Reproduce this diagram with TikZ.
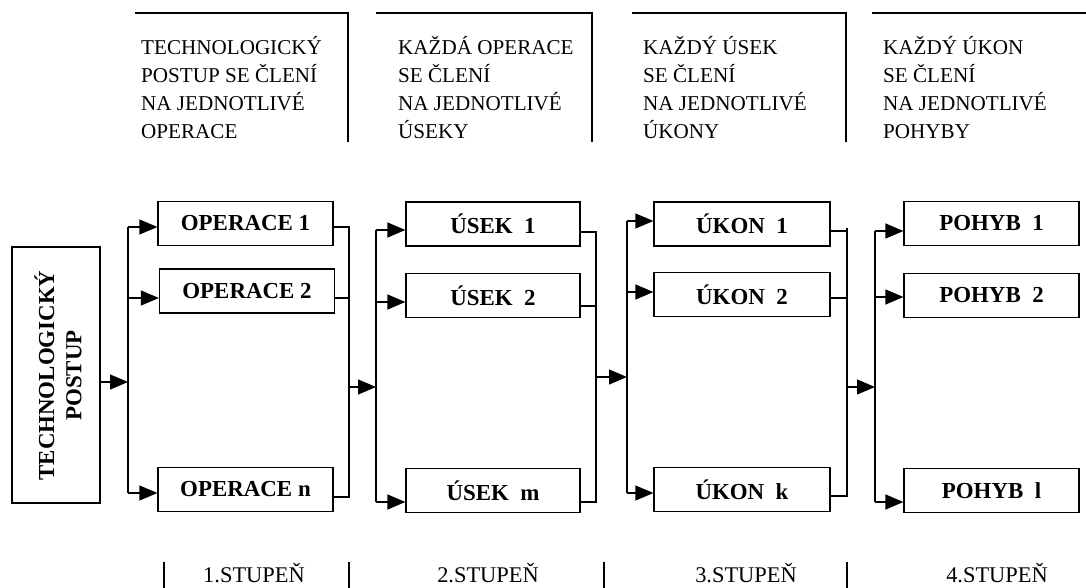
\documentclass[tikz,border=0pt]{standalone}
\usepackage{fontspec}
\setmainfont{Liberation Serif}
\usetikzlibrary{arrows.meta}
\tikzset{
  box/.style={draw, line width=1.2bp, minimum width=175bp, minimum height=44bp, inner sep=0pt,
    font=\fontsize{23}{27}\selectfont\bfseries},
  arr/.style={line width=1.2bp, -{Triangle[length=18bp,width=15bp]}},
  wire/.style={line width=1.2bp},
  head/.style={anchor=north west, align=left, inner sep=0pt, font=\fontsize{21.2}{28}\selectfont},
  stage/.style={anchor=base, inner sep=0pt, font=\fontsize{22.5}{26}\selectfont}
}
\begin{document}
\begin{tikzpicture}[x=1bp,y=-1bp]
\useasboundingbox (0,0) rectangle (1086,588);
% header brackets
\draw[wire] (135,13) -- (348,13) -- (348,142);
\draw[wire] (376,13) -- (592,13) -- (592,142);
\draw[wire] (632,13) -- (846,13) -- (846,142);
\draw[wire] (872,13) -- (1086,13);
\node[head] (h1) at (141,36) {TECHNOLOGICKÝ\\POSTUP SE ČLENÍ\\NA JEDNOTLIVÉ\\OPERACE};
\node[head] (h2) at (398,36) {KAŽDÁ OPERACE\\SE ČLENÍ\\NA JEDNOTLIVÉ\\ÚSEKY};
\node[head] (h3) at (643,36) {KAŽDÝ ÚSEK\\SE ČLENÍ\\NA JEDNOTLIVÉ\\ÚKONY};
\node[head] (h4) at (883,36) {KAŽDÝ ÚKON\\SE ČLENÍ\\NA JEDNOTLIVÉ\\POHYBY};
% main box
\node[draw, line width=1.2bp, minimum width=88bp, minimum height=256bp, inner sep=0pt] (tp) at (56,375) {};
\node[rotate=90, align=center, inner sep=0pt, font=\fontsize{23}{27.5}\selectfont\bfseries] (tpt) at (58,375.5) {TECHNOLOGICKÝ\\POSTUP};
% boxes
\node[box] (op1) at (245.5,223.5) {OPERACE 1};
\node[box] (op2) at (247,291) {OPERACE 2};
\node[box] (opn) at (245.5,489.5) {OPERACE n};
\node[box, minimum width=174bp] (us1) at (493,224) {ÚSEK\ \ 1};
\node[box, minimum width=174bp] (us2) at (493,295.5) {ÚSEK\ \ 2};
\node[box, minimum width=174bp] (usm) at (493,490.5) {ÚSEK\ \ m};
\node[box, minimum width=176bp] (uk1) at (742,224) {ÚKON\ \ 1};
\node[box, minimum width=176bp] (uk2) at (742,294.5) {ÚKON\ \ 2};
\node[box, minimum width=176bp] (ukk) at (742,489.5) {ÚKON\ \ k};
\node[box] (ph1) at (991.5,223.5) {POHYB\ \ 1};
\node[box] (ph2) at (991.5,295.5) {POHYB\ \ 2};
\node[box] (phl) at (991.5,490.5) {POHYB\ \ l};
% bar A
\coordinate (a1) at (128,227); \coordinate (a2) at (128,298); \coordinate (an) at (128,493);
\coordinate (am) at (128,382);
\draw[wire] (a1) -- (an);
\draw[arr] (tp.east |- am) -- (am);
\draw[arr] (a1) -- (op1.west |- a1);
\draw[arr] (a2) -- (op2.west |- a2);
\draw[arr] (an) -- (opn.west |- an);
% collector A
\coordinate (c1) at (349,227); \coordinate (c2) at (349,298); \coordinate (cn) at (349,497);
\coordinate (cm) at (349,387);
\draw[wire] (op1.east |- c1) -- (c1) -- (cn) -- (opn.east |- cn);
\draw[wire] (op2.east |- c2) -- (c2);
% bar B
\coordinate (b1) at (376,230); \coordinate (b2) at (376,302); \coordinate (bn) at (376,502);
\coordinate (bm) at (376,387);
\draw[wire] (b1) -- (bn);
\draw[arr] (cm) -- (bm);
\draw[arr] (b1) -- (us1.west |- b1);
\draw[arr] (b2) -- (us2.west |- b2);
\draw[arr] (bn) -- (usm.west |- bn);
% collector B
\coordinate (d1) at (596,232); \coordinate (d2) at (596,306); \coordinate (dn) at (596,502);
\coordinate (dm) at (596,377);
\draw[wire] (us1.east |- d1) -- (d1) -- (dn) -- (usm.east |- dn);
\draw[wire] (us2.east |- d2) -- (d2);
% bar C
\coordinate (e1) at (627,221); \coordinate (e2) at (627,292); \coordinate (en) at (627,493);
\coordinate (em) at (627,377);
\draw[wire] (e1) -- (en);
\draw[arr] (dm) -- (em);
\draw[arr] (e1) -- (uk1.west |- e1);
\draw[arr] (e2) -- (uk2.west |- e2);
\draw[arr] (en) -- (ukk.west |- en);
% collector C
\coordinate (f0) at (847,228);
\coordinate (f1) at (847,231); \coordinate (f2) at (847,298); \coordinate (fn) at (847,496);
\coordinate (fm) at (847,387);
\draw[wire] (f0) -- (fn) -- (ukk.east |- fn);
\draw[wire] (uk1.east |- f1) -- (f1);
\draw[wire] (uk2.east |- f2) -- (f2);
% bar D
\coordinate (g1) at (875,231); \coordinate (g2) at (875,297); \coordinate (gn) at (875,502);
\coordinate (gm) at (875,387);
\draw[wire] (g1) -- (gn);
\draw[arr] (fm) -- (gm);
\draw[arr] (g1) -- (ph1.west |- g1);
\draw[arr] (g2) -- (ph2.west |- g2);
\draw[arr] (gn) -- (phl.west |- gn);
% bottom stages
\draw[wire] (164,562) -- (164,588);
\draw[wire] (349,562) -- (349,588);
\draw[wire] (604,562) -- (604,588);
\draw[wire] (847,562) -- (847,588);
\node[stage] (s1) at (254,582) {1.STUPEŇ};
\node[stage] (s2) at (488,582) {2.STUPEŇ};
\node[stage] (s3) at (746,582) {3.STUPEŇ};
\node[stage] (s4) at (997,582) {4.STUPEŇ};
\end{tikzpicture}
\end{document}
